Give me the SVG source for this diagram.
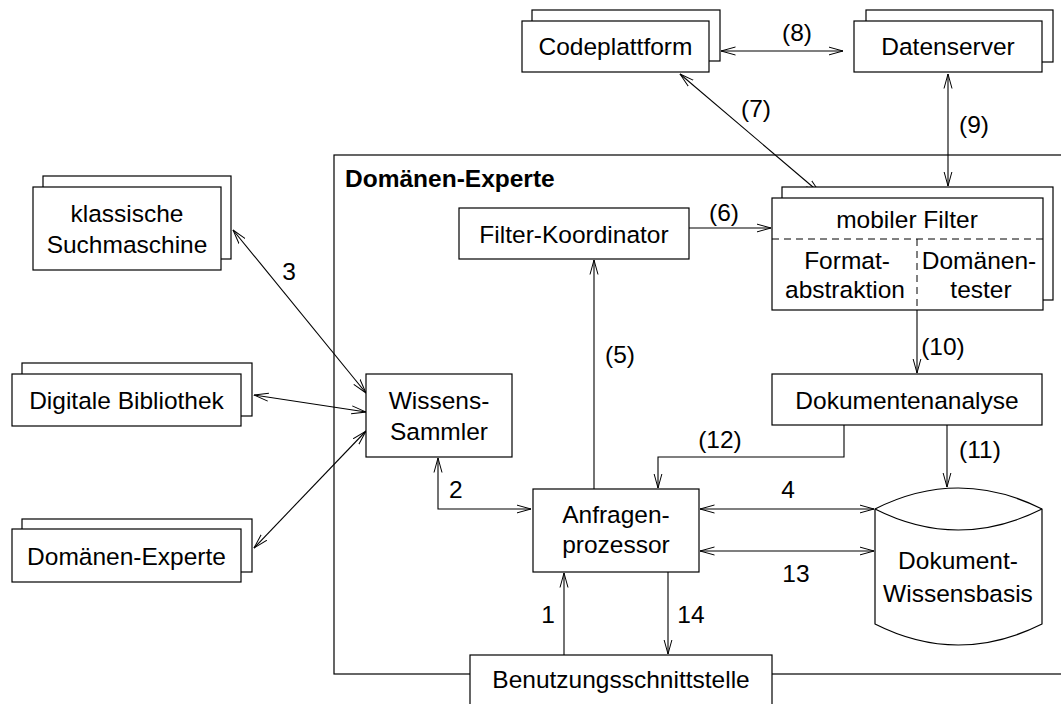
<svg xmlns="http://www.w3.org/2000/svg" width="1061" height="704" viewBox="0 0 1061 704">
<style>
text{font-family:"Liberation Sans",Arial,sans-serif;font-size:24.5px;fill:#000;text-anchor:middle}
.b{fill:#fff;stroke:#000;stroke-width:1.2}
.c{fill:none;stroke:#000;stroke-width:1.1}
.d{fill:none;stroke:#000;stroke-width:1;stroke-dasharray:7,5}
.t{font-weight:bold;text-anchor:start}
.s{text-anchor:start}
</style>
<defs>
<marker id="a" viewBox="0 0 15 10" refX="14.5" refY="5" markerWidth="15" markerHeight="10" markerUnits="userSpaceOnUse" orient="auto-start-reverse">
<path d="M0,1 L14.5,5 L0,9" fill="none" stroke="#000" stroke-width="1"/>
</marker>
</defs>
<rect width="1061" height="704" fill="#fff"/>

<g id="container">
<rect x="334" y="155" width="800" height="519" fill="none" stroke="#000" stroke-width="1.2"/>
<text class="t" x="345" y="187">Domänen-Experte</text>
</g>

<g id="connectors">
<line class="c" x1="233" y1="230" x2="366" y2="393" marker-start="url(#a)" marker-end="url(#a)"/>
<line class="c" x1="254" y1="395" x2="366" y2="412" marker-start="url(#a)" marker-end="url(#a)"/>
<line class="c" x1="254" y1="548" x2="366" y2="431" marker-start="url(#a)" marker-end="url(#a)"/>
<path class="c" d="M438,458 L438,509 L531,509" marker-start="url(#a)" marker-end="url(#a)"/>
<path class="c" d="M594,489 L594,260" marker-end="url(#a)"/>
<path class="c" d="M689,228 L771,228" marker-end="url(#a)"/>
<line class="c" x1="680" y1="74" x2="820" y2="193" marker-start="url(#a)" marker-end="url(#a)"/>
<line class="c" x1="721" y1="51" x2="843" y2="51" marker-start="url(#a)" marker-end="url(#a)"/>
<line class="c" x1="948" y1="74" x2="948" y2="186" marker-start="url(#a)" marker-end="url(#a)"/>
<path class="c" d="M917,310 L917,373" marker-end="url(#a)"/>
<path class="c" d="M947,425 L947,487" marker-end="url(#a)"/>
<path class="c" d="M844,425 L844,457 L658,457 L658,488" marker-end="url(#a)"/>
<line class="c" x1="700" y1="509" x2="874" y2="509" marker-start="url(#a)" marker-end="url(#a)"/>
<line class="c" x1="700" y1="551" x2="874" y2="551" marker-start="url(#a)" marker-end="url(#a)"/>
<path class="c" d="M564,655 L564,573" marker-end="url(#a)"/>
<path class="c" d="M668,572 L668,654" marker-end="url(#a)"/>
<text x="289" y="280">3</text>
<text class="s" x="449" y="498">2</text>
<text x="620" y="363">(5)</text>
<text x="724" y="221">(6)</text>
<text x="756" y="117">(7)</text>
<text x="797" y="41">(8)</text>
<text x="974" y="133">(9)</text>
<text x="943" y="355">(10)</text>
<text x="980" y="458">(11)</text>
<text x="720" y="448">(12)</text>
<text x="788" y="498">4</text>
<text x="796" y="582">13</text>
<text x="548" y="623">1</text>
<text x="691" y="623">14</text>
</g>

<g id="codeplattform">
<rect class="b" x="532" y="10" width="188" height="51"/>
<rect class="b" x="522" y="21" width="187" height="51"/>
<text x="615.5" y="55">Codeplattform</text>
</g>

<g id="datenserver">
<rect class="b" x="866" y="10" width="187" height="52"/>
<rect class="b" x="854" y="21" width="188" height="51"/>
<text x="948" y="55">Datenserver</text>
</g>

<g id="klassische-suchmaschine">
<rect class="b" x="43" y="176" width="188" height="83"/>
<rect class="b" x="33" y="187" width="188" height="83"/>
<text x="127" y="222">klassische</text>
<text x="127" y="253">Suchmaschine</text>
</g>

<g id="digitale-bibliothek">
<rect class="b" x="22" y="363" width="230" height="53"/>
<rect class="b" x="12" y="374" width="229" height="52"/>
<text x="126.5" y="409">Digitale Bibliothek</text>
</g>

<g id="domaenen-experte-ext">
<rect class="b" x="22" y="519" width="230" height="53"/>
<rect class="b" x="12" y="529" width="229" height="53"/>
<text x="126.5" y="565">Domänen-Experte</text>
</g>

<g id="filter-koordinator">
<rect class="b" x="459" y="208" width="230" height="51"/>
<text x="574" y="243">Filter-Koordinator</text>
</g>

<g id="mobiler-filter">
<rect class="b" x="782" y="187" width="271" height="113"/>
<rect class="b" x="772" y="198" width="271" height="112"/>
<line class="d" x1="772" y1="239" x2="1043" y2="239"/>
<line class="d" x1="917" y1="239" x2="917" y2="310"/>
<text x="907" y="228">mobiler Filter</text>
<text x="847" y="269">Format-</text>
<text x="845" y="298">abstraktion</text>
<text x="979" y="269">Domänen-</text>
<text x="981" y="298">tester</text>
</g>

<g id="wissens-sammler">
<rect class="b" x="366" y="374" width="146" height="83"/>
<text x="439" y="409">Wissens-</text>
<text x="439" y="440">Sammler</text>
</g>

<g id="dokumentenanalyse">
<rect class="b" x="772" y="374" width="270" height="51"/>
<text x="907" y="409">Dokumentenanalyse</text>
</g>

<g id="anfragenprozessor">
<rect class="b" x="533" y="489" width="166" height="83"/>
<text x="616" y="523">Anfragen-</text>
<text x="616" y="553">prozessor</text>
</g>

<g id="dokument-wissensbasis">
<path class="b" d="M875,509 Q958,467 1042,509 L1042,624 Q958,666 875,624 Z"/>
<path class="c" d="M875,509 Q958,551 1042,509"/>
<text x="958" y="569">Dokument-</text>
<text x="958" y="602">Wissensbasis</text>
</g>

<g id="benutzungsschnittstelle">
<rect class="b" x="470" y="655" width="302" height="60"/>
<text x="621" y="688">Benutzungsschnittstelle</text>
</g>
</svg>
